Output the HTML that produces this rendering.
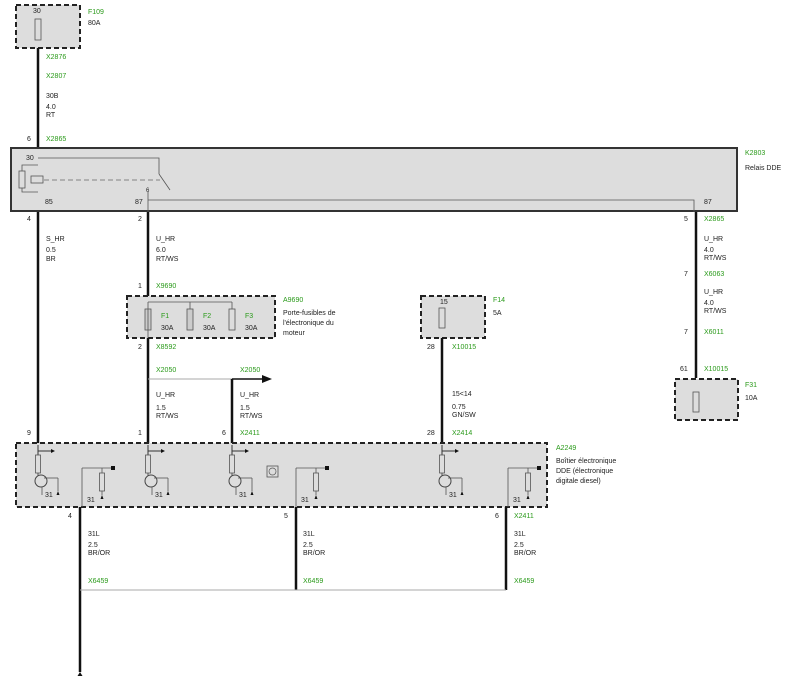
<!DOCTYPE html>
<html><head><meta charset="utf-8"><style>
body{margin:0;background:#fff}
svg{display:block}
text{font-family:"Liberation Sans",sans-serif;font-size:7px;fill:#222}
.g{fill:#2a9a1a}
</style></head><body>
<svg width="800" height="688" viewBox="0 0 800 688" xmlns="http://www.w3.org/2000/svg">
<defs>
<g id="inm">
<line x1="0" y1="0" x2="0" y2="10" stroke="#333" stroke-width="1"/>
<line x1="0" y1="6" x2="13" y2="6" stroke="#333" stroke-width="1"/>
<polygon points="13,4 17,6 13,8" fill="#111"/>
<rect x="-2.5" y="10" width="5" height="18" fill="#ddd" stroke="#555" stroke-width="0.8"/>
<line x1="0" y1="28" x2="0" y2="31" stroke="#555"/>
<circle cx="3" cy="36" r="6" fill="#ddd" stroke="#444" stroke-width="1"/>
<line x1="6" y1="33" x2="20" y2="33" stroke="#555" stroke-width="0.8"/>
<line x1="20" y1="33" x2="20" y2="46" stroke="#555" stroke-width="0.8"/>
<line x1="4" y1="42" x2="4" y2="50" stroke="#555" stroke-width="0.8"/>
<polygon points="18.5,50 21.5,50 20,46" fill="#111"/>
<text x="7" y="52">31</text>
</g>
<g id="outm">
<line x1="0" y1="62" x2="0" y2="23" stroke="#555" stroke-width="0.8"/>
<line x1="0" y1="23" x2="30" y2="23" stroke="#555" stroke-width="0.8"/>
<rect x="29" y="21" width="4" height="4" fill="#111"/>
<line x1="20" y1="23" x2="20" y2="28" stroke="#555" stroke-width="0.8"/>
<rect x="17.5" y="28" width="5" height="18" fill="#ddd" stroke="#555" stroke-width="0.8"/>
<polygon points="18.5,54 21.5,54 20,50" fill="#111"/>
<line x1="20" y1="46" x2="20" y2="50" stroke="#555" stroke-width="0.8"/>
<text x="5" y="57">31</text>
</g>
</defs>

<!-- F109 -->
<rect x="16" y="5" width="64" height="43" fill="#ddd" stroke="#222" stroke-width="2" stroke-dasharray="5,3"/>
<text x="33" y="13">30</text>
<rect x="35" y="19" width="6" height="21" fill="#ddd" stroke="#555" stroke-width="0.8"/>
<text class="g" x="88" y="14">F109</text>
<text x="88" y="25">80A</text>
<line x1="38" y1="48" x2="38" y2="148" stroke="#111" stroke-width="2.5"/>
<text class="g" x="46" y="59">X2876</text>
<text class="g" x="46" y="78">X2807</text>
<text x="46" y="98">30B</text>
<text x="46" y="109">4.0</text>
<text x="46" y="117">RT</text>
<text x="27" y="141">6</text>
<text class="g" x="46" y="141">X2865</text>

<!-- relay K2803 -->
<rect x="11" y="148" width="726" height="63" fill="#ddd" stroke="#333" stroke-width="2"/>
<text class="g" x="745" y="155">K2803</text>
<text x="745" y="170">Relais DDE</text>
<text x="26" y="160">30</text>
<polyline points="38,158 159,158 159,174" fill="none" stroke="#555" stroke-width="0.8"/>
<line x1="159" y1="174" x2="170" y2="190" stroke="#555" stroke-width="0.8"/>
<line x1="44" y1="180" x2="160" y2="180" stroke="#666" stroke-width="0.8" stroke-dasharray="5,3"/>
<rect x="31" y="176" width="12" height="7" fill="#ddd" stroke="#555" stroke-width="0.8"/>
<polyline points="38,165 22,165 22,192 38,192" fill="none" stroke="#555" stroke-width="0.8"/>
<rect x="19" y="171" width="6" height="17" fill="#ddd" stroke="#555" stroke-width="0.8"/>
<text x="45" y="204">85</text>
<text x="135" y="204">87</text>
<text x="146" y="192" style="font-size:6px">6</text>
<polyline points="148,200 694,200 694,212" fill="none" stroke="#555" stroke-width="0.8"/>
<line x1="148" y1="192" x2="148" y2="212" stroke="#555" stroke-width="0.8"/>
<text x="704" y="204">87</text>

<!-- left wire -->
<line x1="38" y1="212" x2="38" y2="445" stroke="#111" stroke-width="2.5"/>
<text x="27" y="221">4</text>
<text x="46" y="241">S_HR</text>
<text x="46" y="252">0.5</text>
<text x="46" y="261">BR</text>
<text x="27" y="435">9</text>

<!-- wire 148 -->
<line x1="148" y1="212" x2="148" y2="296" stroke="#111" stroke-width="2.5"/>
<text x="138" y="221">2</text>
<text x="156" y="241">U_HR</text>
<text x="156" y="252">6.0</text>
<text x="156" y="261">RT/WS</text>
<text x="138" y="288">1</text>
<text class="g" x="156" y="288">X9690</text>
<rect x="127" y="296" width="148" height="42" fill="#ddd" stroke="#222" stroke-width="2" stroke-dasharray="5,3"/>
<polyline points="148,302 232,302" fill="none" stroke="#555" stroke-width="0.8"/>
<line x1="190" y1="302" x2="190" y2="310" stroke="#555" stroke-width="0.8"/>
<line x1="232" y1="302" x2="232" y2="310" stroke="#555" stroke-width="0.8"/>
<rect x="145" y="309" width="6" height="21" fill="#ccc" stroke="#555" stroke-width="0.8"/>
<rect x="187" y="309" width="6" height="21" fill="#ccc" stroke="#555" stroke-width="0.8"/>
<rect x="229" y="309" width="6" height="21" fill="#ddd" stroke="#555" stroke-width="0.8"/>
<line x1="148" y1="302" x2="148" y2="338" stroke="#555" stroke-width="0.8"/>
<text class="g" x="161" y="318">F1</text><text x="161" y="330">30A</text>
<text class="g" x="203" y="318">F2</text><text x="203" y="330">30A</text>
<text class="g" x="245" y="318">F3</text><text x="245" y="330">30A</text>
<text class="g" x="283" y="302">A9690</text>
<text x="283" y="315">Porte-fusibles de</text>
<text x="283" y="325">l'électronique du</text>
<text x="283" y="335">moteur</text>
<line x1="148" y1="338" x2="148" y2="445" stroke="#111" stroke-width="2.5"/>
<text x="138" y="349">2</text>
<text class="g" x="156" y="349">X8592</text>
<text class="g" x="156" y="372">X2050</text>
<text class="g" x="240" y="372">X2050</text>
<line x1="148" y1="379" x2="262" y2="379" stroke="#aaa" stroke-width="1"/>
<line x1="232" y1="379" x2="264" y2="379" stroke="#111" stroke-width="1.5"/>
<polygon points="262,375 272,379 262,383" fill="#111"/>
<line x1="232" y1="379" x2="232" y2="445" stroke="#111" stroke-width="2.5"/>
<text x="156" y="397">U_HR</text><text x="156" y="410">1.5</text><text x="156" y="418">RT/WS</text>
<text x="240" y="397">U_HR</text><text x="240" y="410">1.5</text><text x="240" y="418">RT/WS</text>
<text x="138" y="435">1</text>
<text x="222" y="435">6</text>
<text class="g" x="240" y="435">X2411</text>

<!-- F14 -->
<rect x="421" y="296" width="64" height="42" fill="#ddd" stroke="#222" stroke-width="2" stroke-dasharray="5,3"/>
<text x="440" y="304">15</text>
<rect x="439" y="308" width="6" height="20" fill="#ddd" stroke="#555" stroke-width="0.8"/>
<text class="g" x="493" y="302">F14</text>
<text x="493" y="315">5A</text>
<line x1="442" y1="338" x2="442" y2="445" stroke="#111" stroke-width="2.5"/>
<text x="427" y="349">28</text>
<text class="g" x="452" y="349">X10015</text>
<text x="452" y="396">15&lt;14</text>
<text x="452" y="409">0.75</text>
<text x="452" y="417">GN/SW</text>
<text x="427" y="435">28</text>
<text class="g" x="452" y="435">X2414</text>

<!-- right wire -->
<line x1="696" y1="212" x2="696" y2="378" stroke="#111" stroke-width="2.5"/>
<text x="684" y="221">5</text>
<text class="g" x="704" y="221">X2865</text>
<text x="704" y="241">U_HR</text><text x="704" y="252">4.0</text><text x="704" y="260">RT/WS</text>
<text x="684" y="276">7</text><text class="g" x="704" y="276">X6063</text>
<text x="704" y="294">U_HR</text><text x="704" y="305">4.0</text><text x="704" y="313">RT/WS</text>
<text x="684" y="334">7</text><text class="g" x="704" y="334">X6011</text>
<text x="680" y="371">61</text><text class="g" x="704" y="371">X10015</text>
<rect x="675" y="379" width="63" height="41" fill="#ddd" stroke="#222" stroke-width="2" stroke-dasharray="5,3"/>
<rect x="693" y="392" width="6" height="20" fill="#ddd" stroke="#555" stroke-width="0.8"/>
<text class="g" x="745" y="387">F31</text>
<text x="745" y="400">10A</text>

<!-- A2249 -->
<rect x="16" y="443" width="531" height="64" fill="#ddd" stroke="#222" stroke-width="2" stroke-dasharray="5,3"/>
<text class="g" x="556" y="450">A2249</text>
<text x="556" y="463">Boîtier électronique</text>
<text x="556" y="473">DDE (électronique</text>
<text x="556" y="483">digitale diesel)</text>
<use href="#inm" x="38" y="445"/>
<use href="#inm" x="148" y="445"/>
<use href="#inm" x="232" y="445"/>
<use href="#inm" x="442" y="445"/>
<use href="#outm" x="82" y="445"/>
<use href="#outm" x="296" y="445"/>
<use href="#outm" x="508" y="445"/>
<rect x="267" y="466" width="11" height="11" fill="#ddd" stroke="#555" stroke-width="0.8"/>
<circle cx="272.5" cy="471.5" r="3.5" fill="none" stroke="#555" stroke-width="0.7"/>

<!-- bottom -->
<line x1="80" y1="507" x2="80" y2="672" stroke="#111" stroke-width="2.5"/>
<polygon points="77.5,676 82.5,676 80,672" fill="#111"/>
<line x1="296" y1="507" x2="296" y2="590" stroke="#111" stroke-width="2.5"/>
<line x1="506" y1="507" x2="506" y2="590" stroke="#111" stroke-width="2.5"/>
<line x1="80" y1="590" x2="506" y2="590" stroke="#aaa" stroke-width="1"/>
<text x="68" y="518">4</text>
<text x="284" y="518">5</text>
<text x="495" y="518">6</text>
<text class="g" x="514" y="518">X2411</text>
<text x="88" y="536">31L</text><text x="88" y="547">2.5</text><text x="88" y="555">BR/OR</text>
<text x="303" y="536">31L</text><text x="303" y="547">2.5</text><text x="303" y="555">BR/OR</text>
<text x="514" y="536">31L</text><text x="514" y="547">2.5</text><text x="514" y="555">BR/OR</text>
<text class="g" x="88" y="583">X6459</text>
<text class="g" x="303" y="583">X6459</text>
<text class="g" x="514" y="583">X6459</text>
</svg>
</body></html>
